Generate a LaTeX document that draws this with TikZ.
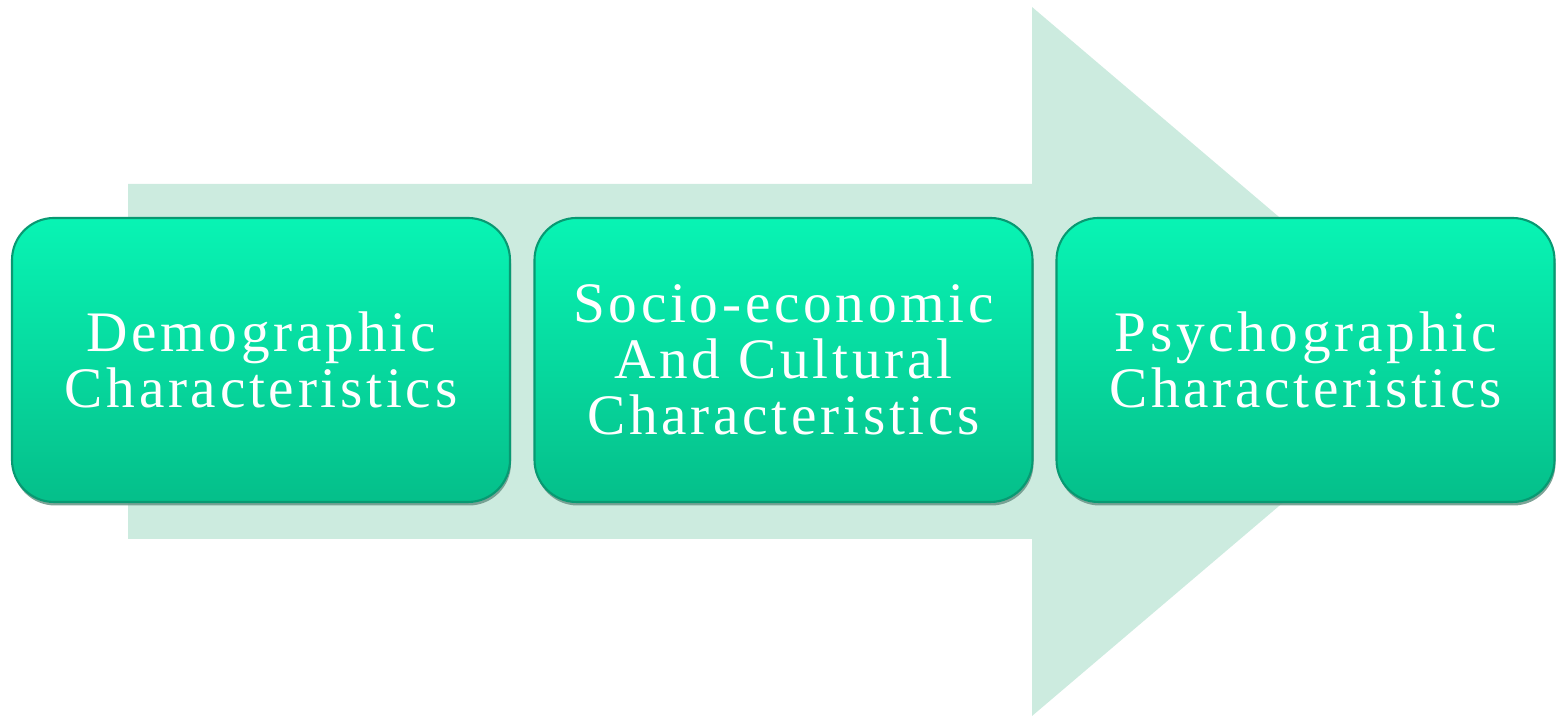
\documentclass[tikz,border=0pt]{standalone}
\usepackage{fontspec}
\newfontfamily\boxfont[LetterSpace=6.5]{Liberation Serif}
\usetikzlibrary{shadows}
\definecolor{arrowfill}{HTML}{CCEBDF}
\definecolor{boxtop}{HTML}{08F4B4}
\definecolor{boxbottom}{HTML}{05BF8A}
\definecolor{boxedge}{HTML}{0B7A5E}
\definecolor{boxshadow}{HTML}{6F9A8C}
\tikzset{
  stage/.style={rectangle, rounded corners=0.42cm, minimum width=4.98cm,
    minimum height=2.84cm, top color=boxtop, bottom color=boxbottom,
    draw=boxedge!55!boxbottom, line width=0.6pt, text=white, align=center,
    font=\boxfont\fontsize{16.3}{16}\selectfont,
    drop shadow={shadow xshift=0.01cm, shadow yshift=-0.035cm, fill=boxshadow, opacity=0.9}}
}
\begin{document}
\begin{tikzpicture}
    \useasboundingbox (0,0) rectangle (15.64,7.17);
    % big arrow behind the boxes
    \fill[arrowfill] (1.28,1.78) -- (10.32,1.78) -- (10.32,0.01) -- (14.49,3.555)
        -- (10.32,7.10) -- (10.32,5.33) -- (1.28,5.33) -- cycle;
    \node[stage] (demo) at (2.61,3.57) {Demographic\\Characteristics};
    \node[stage] (socio) at (7.835,3.57) {Socio-economic\\And Cultural\\Characteristics};
    \node[stage] (psycho) at (13.055,3.57) {Psychographic\\Characteristics};
\end{tikzpicture}
\end{document}
